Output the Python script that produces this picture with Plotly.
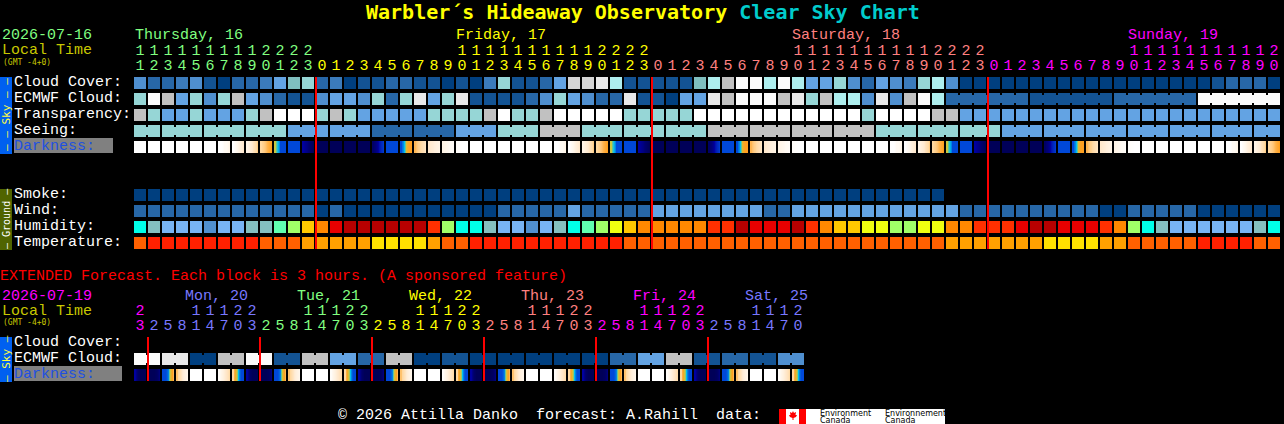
import plotly.graph_objects as go

# ---------- data ----------
W, H_PX = 1284, 424
CLOUD_PAL = ["#003f7f", "#135393", "#2767a7", "#3b7bbb", "#4f8fcf", "#63a3e3", "#74b4f4", "#7fbfbf",
             "#96d6d6", "#aeeeee", "#c1c1c1", "#d5d5d5", "#e9e9e9", "#fbfbfb", "#ffffff"]

cloud_cover = [4,2,2,3,4,1,0,2,2,3,5,7,8, 2,3,0,1,1,2,2,1,1,0,1,0,3,8,1,1,2,5,11,11,12,9,1,1,1,1,1,7,9,10,13,13,9,13,9,5,5,8,
               4,2,5,4,3,8,9,4,0,0,0,0,0,0,0,0,0,0,0,0,0,0,0,0,0,0,1,2,2,2,0]
ecmwf_cloud = [8,13,10,5,8,4,8,10,5,4,2,1,1, 4,5,5,4,8,2,8,12,5,8,12,1,1,1,1,2,4,8,5,4,2,2,12,1,1,0,5,5,12,10,13,13,13,10,12,8,10,9,
               9,4,12,4,10,13,9,2,2,2,2,2,2,1,1,1,1,1,1,2,2,2,2,2,2,13,13,13,13,13,13]
ecmwf_groups = [[58,63],[64,69],[70,75],[76,81]]
transparency = [10,8,5,5,8,5,5,5,8,10,14,14,14, 8,10,8,5,5,5,5,5,8,8,8,8,10,14,8,8,10,14,14,14,14,14,8,8,8,8,8,14,14,14,14,14,14,14,14,14,14,14,
                14,8,14,14,14,14,10,10,5,5,5,5,5,5,5,5,5,5,5,5,5,5,5,5,5,5,5,5,5,5,5]
seeing = [8,8,8,8,8,8,8,8,8,8,8, 5,5,5, 5,5,5, 2,2,2, 2,2,2, 5,5,5, 8,8,8, 10,10,10, 8,8,8, 8,8,8, 8,8,8, 10,10,10, 10,10,10,
          10,10,10, 10,10,10, 8,8,8, 8,8,8, 8,8,8, 5,5,5, 5,5,5, 5,5,5, 5,5,5, 5,5,5, 5,5,5, 5,5]
seeing_groups = [[0,1],[2,4],[5,7],[8,10],[11,13],[14,16],[17,19],[20,22],[23,25],[26,28],[29,31],[32,34],[35,37],[38,40],
                 [41,43],[44,46],[47,49],[50,52],[53,55],[56,58],[59,61],[62,64],[65,67],[68,70],[71,73],[74,76],[77,79],[80,81]]
smoke = [0]*58
wind = [2,2,2,2,2,2,2,2,2,2,2,2,2, 0,2,0,0,0,0,0,0,0,0,0,0,0,2,2,2,2,2,5,2,2,2,2,2,5,5,5,5,5,5,5,5,2,2,5,5,5,5,
        5,5,5,5,5,5,5,5,2,2,2,2,2,2,2,2,2,2,0,0,2,2,2,2,2,0,0,0,0,0,0]

HUM_PAL = dict(c="#00ffe8", t="#84c0c0", l="#78b4f4", m="#5090d0", g="#60ffb0", k="#a0ff68", y="#f0ff10",
               a="#ffc800", o="#ff8800", r="#ff3000", e="#e80000", d="#b80000")
humidity = list("ctlllmlltt" "gka" "oedddddd" "rkcctllmltcgkya" "ooooorrdeeedroaa" "yykkyyoorrredd" "eeerokctllllllt" "c")
TEMP_PAL = dict(o="#ff6000", r="#ff2000", a="#ffa000", y="#ffe000")
temperature = list("orrrrrrrrooo" "aaaaa" "yyyy" "aoo" "rrrrrrrrrrr"
                   "ooooooooooooooooooooooo" "aaaaaaa" "yyyy" "aa" "ooooo" "rrrr" "oo")

# darkness: five samples across each cell (0 = daylight ... 9 = deep night)
D0 = [0, 0, 0, 0, 0]
D1 = [0, 0, .5, .5, 1]
D2 = [0, .5, 1, 1.5, 2]
D3 = [1, 1.5, 2, 2.6, 3.2]
D4 = [3, 3.2, 3.5, 3.8, 4]
D5 = [5, 6, 7, 7, 7]
D6 = [7, 7, 7, 7, 7]
D7 = [8, 8.3, 8.6, 8.8, 9]
D8 = [9, 9, 9, 9, 9]
D9 = [8.8, 8.5, 8, 7.5, 7.2]
DA = [7, 6.3, 4.6, 4, 4]
DB = [3.6, 3.2, 3, 2.6, 2.2]
DC = [2, 1.7, 1.4, 1.2, 1]
DD = [1, .8, .6, .4, .3]
DE = [.2, .1, 0, 0, 0]
darkness = [D0,D0,D0,D0,D0,D0,D1,D2,D3,D4,D5,D6,D7,D8,D8,D8,D8,D9,D6,DA,DB,DC,DD,DE,
            D0,D0,D0,D0,D0,D0,D1,D2,D3,D4,D5,D6,D7,D8,D8,D8,D8,D9,D6,DA,DB,DC,DD,DE,
            D0,D0,D0,D0,D0,D0,D1,D2,D3,D4,D5,D6,D7,D8,D8,D8,D8,D9,D6,DA,DB,DC,DD,DE,
            D0,D0,D0,D0,D0,D0,D1,D2,D3,D4]

X0 = [8, 8.8, 9, 9, 9]
X1 = [9, 9, 9, 8.9, 8.5]
X2 = [7, 7, 6.5, 4.5, 3.6]
X3 = [3.4, 2.6, 1.8, 1.2, .8]
X4 = [0, 0, 0, 0, 0]
X6 = [.3, 1, 1.6, 2.2, 2.8]
X7 = [3, 4.5, 6, 7, 7]
ext_darkness = [X0,X1,X2,X3,X4,X4,X6,X7, X0,X1,X2,X3,X4,X4,X6,X7, X0,X1,X2,X3,X4,X4,X6,X7,
                X0,X1,X2,X3,X4,X4,X6,X7, X0,X1,X2,X3,X4,X4,X6,X7, X0,X1,X2,X3,X4,X4,X6,X7]
DARK_SCALE = [(0, "#ffffff"), (1, "#fff4e6"), (2, "#ffe8cc"), (3, "#ffd8a0"), (4, "#ffa020"), (5, "#c8c840"),
              (6, "#00c0f0"), (7, "#0048d8"), (8, "#0000a0"), (9, "#000058")]

ext_cloud = [13,12,0,10,13,1,10,5,2,10,0,1,0,0,0,0,0,2,5,10,1,2,1,4]

GREEN, YEL, SALMON, MAG, BLUE = "#80ff80", "#ffff00", "#ff8080", "#ff00ff", "#7878ff"
hour_vals = list(range(11, 24)) + list(range(0, 24)) + list(range(0, 24)) + list(range(0, 21))
hour_cols = [GREEN]*13 + [YEL]*24 + [SALMON]*24 + [MAG]*21
ext_hours = [23] + [2,5,8,11,14,17,20,23]*5 + [2,5,8,11,14,17,20]
ext_cols = [MAG] + [BLUE]*8 + [GREEN]*8 + [YEL]*8 + [SALMON]*8 + [MAG]*8 + [BLUE]*7
day_labels = [("Thursday, 16", 135, GREEN), ("Friday, 17", 456, YEL), ("Saturday, 18", 792, SALMON), ("Sunday, 19", 1128, MAG)]
ext_day_labels = [("Mon, 20", 185, BLUE), ("Tue, 21", 297, GREEN), ("Wed, 22", 409, YEL),
                  ("Thu, 23", 521, SALMON), ("Fri, 24", 633, MAG), ("Sat, 25", 745, BLUE)]
sky_labels = ["Cloud Cover:", "ECMWF Cloud:", "Transparency:", "Seeing:", "Darkness:"]
ground_labels = ["Smoke:", "Wind:", "Humidity:", "Temperature:"]
midnight_px = [316, 652, 988]
ext_midnight_px = [148, 260, 372, 484, 596, 708]

# ---------- scale: columns 14 px apart, rows 16 px apart ----------
X_ORIGIN, X_PITCH, Y_ORIGIN, Y_PITCH = 140, 14, 83, 16
cx = lambda px: (px - X_ORIGIN) / X_PITCH
ry = lambda px: (px - Y_ORIGIN) / Y_PITCH
ROW = dict(cloud=0, ecmwf=1, transp=2, seeing=3, dark=4, smoke=7, wind=8, hum=9, temp=10,
           ext_ecmwf=ry(359), ext_dark=ry(375))

fig = go.Figure()

def cells(values, row, colors, size=12):
    fig.add_trace(go.Scatter(x=list(range(len(values))), y=[row]*len(values), mode="markers",
                             marker=dict(symbol="square", size=size, color=[colors[v] for v in values], line=dict(width=0)),
                             hoverinfo="skip", showlegend=False, cliponaxis=False))

def necks(values, row, groups, colors):
    xs, cs = [], []
    for a, b in groups:
        for c in range(a, b):
            xs.append(c + .5)
            cs.append(colors[values[c]])
    fig.add_trace(go.Scatter(x=xs, y=[row]*len(xs), mode="markers",
                             marker=dict(symbol="square", size=8, color=cs, line=dict(width=0)),
                             hoverinfo="skip", showlegend=False))

def dark_row(samples, row):
    sub = 12 / 14 / 5
    half = 6 / Y_PITCH
    for c, vals in enumerate(samples):
        xb = [c - 3/7 + j * sub for j in range(6)]
        fig.add_trace(go.Heatmap(z=[vals, vals], x=xb, y=[row - half, row, row + half], zsmooth="best",
                                 coloraxis="coloraxis", hoverinfo="skip", showlegend=False))

cells(cloud_cover, ROW["cloud"], CLOUD_PAL)
cells(ecmwf_cloud, ROW["ecmwf"], CLOUD_PAL)
necks(ecmwf_cloud, ROW["ecmwf"], ecmwf_groups, CLOUD_PAL)
cells(transparency, ROW["transp"], CLOUD_PAL)
cells(seeing, ROW["seeing"], CLOUD_PAL)
necks(seeing, ROW["seeing"], seeing_groups, CLOUD_PAL)
dark_row(darkness, ROW["dark"])
cells(smoke, ROW["smoke"], CLOUD_PAL)
cells(wind, ROW["wind"], CLOUD_PAL)
cells(humidity, ROW["hum"], HUM_PAL)
cells(temperature, ROW["temp"], TEMP_PAL)

ext_exp = [v for v in ext_cloud for _ in (0, 1)]
cells(ext_exp, ROW["ext_ecmwf"], CLOUD_PAL)
necks(ext_exp, ROW["ext_ecmwf"], [[2*k, 2*k+1] for k in range(len(ext_cloud))], CLOUD_PAL)
dark_row(ext_darkness, ROW["ext_dark"])

for m in midnight_px:
    fig.add_trace(go.Scatter(x=[cx(m), cx(m)], y=[ry(77), ry(249)], mode="lines", line=dict(color="#ff0000", width=2),
                             hoverinfo="skip", showlegend=False))
for m in ext_midnight_px:
    fig.add_trace(go.Scatter(x=[cx(m), cx(m)], y=[ry(337), ry(381)], mode="lines", line=dict(color="#ff0000", width=2),
                             hoverinfo="skip", showlegend=False))

MONO = "Liberation Mono"

def hour_row(vals, cols, tens_py, unit_py):
    xs = list(range(len(vals)))
    tens = [str(v // 10) if v >= 10 else "" for v in vals]
    units = [str(v % 10) for v in vals]
    for txt, py in ((tens, tens_py), (units, unit_py)):
        fig.add_trace(go.Scatter(x=xs, y=[ry(py)]*len(xs), mode="text", text=txt,
                                 textfont=dict(family=MONO, size=15, color=cols), textposition="middle center",
                                 hoverinfo="skip", showlegend=False))

hour_row(hour_vals, hour_cols, 51, 66)
hour_row(ext_hours, ext_cols, 311, 326)

# ---------- free text ----------
def T(px, py, text, color="#ffffff", size=15, family=MONO, anchor="left", angle=0):
    if family == MONO:
        py += 1
    fig.add_annotation(x=px / W, y=1 - py / H_PX, xref="paper", yref="paper", text=text, showarrow=False,
                       xanchor=anchor, yanchor="middle", borderpad=0, borderwidth=0, textangle=angle,
                       font=dict(family=family, size=size, color=color), align="left")

T(366, 12, "<b>Warbler´s Hideaway Observatory <span style='color:#00cccc'>Clear Sky Chart</span></b>", "#ffff00", 20, "DejaVu Sans Mono")
T(2, 35, "2026-07-16", GREEN)
T(2, 50, "Local Time", "#c8c800")
T(3, 62, "(GMT -4+0)", "#c8c800", 8, "DejaVu Sans Mono")
for txt, px, col in day_labels:
    T(px, 35, txt, col)
T(2, 295, "2026-07-19", MAG)
T(2, 310, "Local Time", "#c8c800")
T(3, 322, "(GMT -4+0)", "#c8c800", 8, "DejaVu Sans Mono")
for txt, px, col in ext_day_labels:
    T(px, 295, txt, col)
for i, lab in enumerate(sky_labels):
    T(14, 81.5 + 16*i, lab, "#2050e0" if lab == "Darkness:" else "#ffffff")
for i, lab in enumerate(ground_labels):
    T(14, 193.5 + 16*i, lab)
T(14, 341.5, "Cloud Cover:")
T(14, 357.5, "ECMWF Cloud:")
T(14, 373.5, "Darkness:", "#2050e0")
T(0, 275, "EXTENDED Forecast. Each block is 3 hours. (A sponsored feature)", "#ff0000")
T(338, 414.5, "© 2026 Attilla Danko\u00a0 forecast: A.Rahill\u00a0 data:")
T(820, 413.5, "Environment", "#000000", 8, "DejaVu Sans")
T(820, 420, "Canada", "#000000", 8, "DejaVu Sans")
T(885, 413.5, "Environnement", "#000000", 8, "DejaVu Sans")
T(885, 420, "Canada", "#000000", 8, "DejaVu Sans")

def box(x0, y0, x1, y1, color, layer="below"):
    return dict(type="rect", xref="paper", yref="paper", x0=x0/W, x1=x1/W, y0=1-y1/H_PX, y1=1-y0/H_PX,
                fillcolor=color, line=dict(width=0), layer=layer)

shapes = [box(0, 77, 12, 154, "#0060f0"), box(0, 189, 12, 250, "#506400"), box(0, 337, 12, 382, "#0060f0"),
          box(14, 138, 113, 153, "#808080"), box(14, 366, 122, 381, "#808080"),
          box(779, 409, 945, 424, "#ffffff"), box(779, 409, 786, 424, "#ff0000"), box(799, 409, 806, 424, "#ff0000")]
leaf = [(793,411),(794,413),(796,412),(795.5,415),(797,415),(796,417),(793.5,418),(793.5,420),(792.5,420),(792.5,418),(790,417),(789,415),(790.5,415),(790,412),(792,413)]
shapes.append(dict(type="path", xref="paper", yref="paper", fillcolor="#ff0000", line=dict(width=0),
                   path="M " + " L ".join(f"{x/W:.5f},{1-y/H_PX:.5f}" for x, y in leaf) + " Z"))

T(6, 115, "–\u00a0–\u00a0Sky\u00a0–\u00a0–", "#ffff40", 11, "DejaVu Sans Mono", angle=-90, anchor="center")
T(6, 219, "–\u00a0Ground\u00a0–", "#ffffff", 10, "DejaVu Sans Mono", angle=-90, anchor="center")
T(6, 359, "–\u00a0Sky\u00a0–", "#ffff40", 11, "DejaVu Sans Mono", angle=-90, anchor="center")

fig.update_layout(
    width=W, height=H_PX, autosize=False, margin=dict(l=0, r=0, t=0, b=0, pad=0),
    paper_bgcolor="#000000", plot_bgcolor="#000000", showlegend=False, shapes=shapes,
    xaxis=dict(range=[cx(0), cx(W)], visible=False, fixedrange=True),
    yaxis=dict(range=[ry(H_PX), ry(0)], visible=False, fixedrange=True),
    coloraxis=dict(cmin=0, cmax=9, showscale=False, colorscale=[[z/9, c] for z, c in DARK_SCALE]),
)
fig.write_html("out.html", config={"displayModeBar": False},
               post_script="document.body.style.margin='0';document.body.style.background='#000';document.body.style.overflow='hidden';")
